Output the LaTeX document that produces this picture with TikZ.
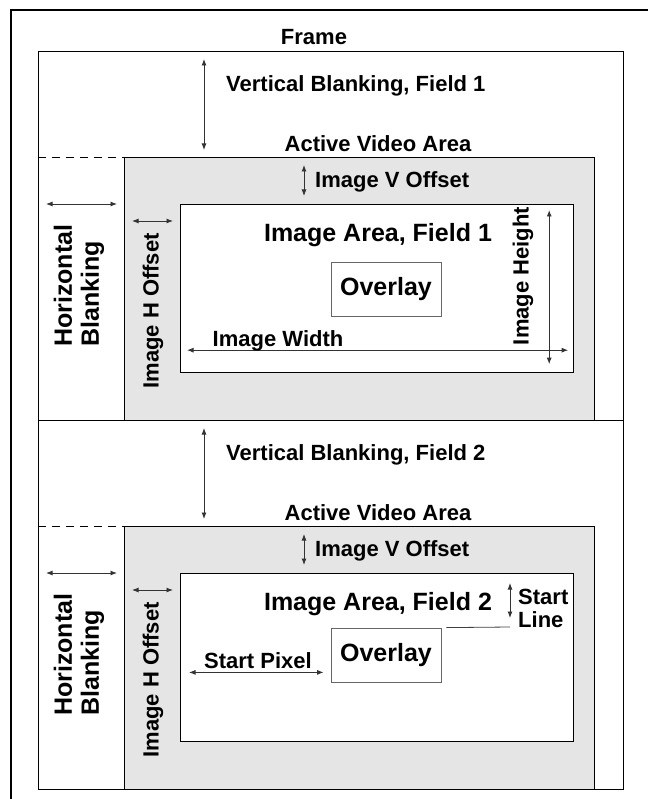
\documentclass[tikz,border=0pt]{standalone}
\usepackage{fontspec}
\setmainfont{Liberation Sans}
\usetikzlibrary{arrows.meta,positioning,calc}

\begin{document}
\begin{tikzpicture}[x=1pt,y=-1pt,>={Latex[length=6.5pt,width=5pt]},
  box/.style={draw=black,line width=1.2pt,inner sep=0pt,anchor=north west},
  actv/.style={box,fill=black!10},
  ovl/.style={draw=black!60,line width=0.8pt,fill=white,inner sep=0pt,
    minimum width=110pt,minimum height=54pt,font=\fontsize{25}{27}\selectfont\bfseries},
  dim/.style={<->,draw=black!80,line width=0.9pt},
  lab/.style={font=\fontsize{22}{23}\selectfont\bfseries,inner sep=0pt},
  big/.style={font=\fontsize{25}{27}\selectfont\bfseries,inner sep=0pt}]
  \useasboundingbox (0,0) rectangle (648,799);
  \draw[line width=1.2pt] (11,799) |- (648,10);
  \node[lab] (frm) at (314,37) {Frame};
  \foreach \f/\dy/\oy in {1/0/289,2/369/655}{
    \node[box,minimum width=585pt,minimum height=369pt] (field\f) at (38,51+\dy) {};
    \node[actv,minimum width=470pt,minimum height=263pt] (act\f) at (124,157+\dy) {};
    \node[box,fill=white,minimum width=393pt,minimum height=168pt] (img\f) at (180,204+\dy) {};
    \draw[dashed,dash pattern=on 8pt off 6pt,line width=0.8pt] (field\f.west |- act\f.north) -- (act\f.north west);
    \draw[dim] ($(field\f.north west)+(166,8)$) -- ($(act\f.north west)+(80,-7)$);
    \draw[dim] ($(field\f.north west)+(8,153)$) -- ($(act\f.north west)+(-7,47)$);
    \draw[dim] ($(act\f.north west)+(8,64)$) -- ($(img\f.north west)+(-7,17)$);
    \draw[dim] ($(act\f.north west)+(180,8)$) -- ($(img\f.north west)+(124,-8)$);
    \node[lab,anchor=west] (vb\f) at (226,86+\dy) {Vertical Blanking, Field \f};
    \node[lab] (ava\f) at (378,144+\dy) {Active Video Area};
    \node[big,rotate=90,align=left,anchor=west] (hb\f) at (79,347+\dy) {Horizontal\\Blanking};
    \node[lab,rotate=90] (iho\f) at (153,311+\dy) {Image H Offset};
    \node[lab,anchor=west] (ivo\f) at (315,182+\dy) {Image V Offset};
    \node[big] (iaf\f) at (378,235+\dy) {Image Area, Field \f};
    \node[ovl] (ovl\f) at (386,\oy) {Overlay};
  }
  \draw[dim] ($(img1.south west)+(7,-23)$) -- ($(img1.south east)+(-6,-23)$);
  \node[lab,anchor=base] (iw) at (278,346) {Image Width};
  \draw[dim] ($(img1.north east)+(-25,6)$) -- ($(img1.south east)+(-25,-9)$);
  \node[lab,rotate=90] (ih) at (523,276) {Image Height};
  \coordinate (sl) at (510,627);
  \draw[draw=black!75,line width=0.8pt] ($(ovl2.north east)+(5,0)$) -- (sl);
  \draw[dim] ($(sl)+(0,-44)$) -- ($(sl)+(0,-9)$);
  \node[lab,align=left,anchor=west] (stl) at (518,608) {Start\\Line};
  \draw[dim] ($(img2.west |- ovl2.south)+(9,-10)$) -- ($(ovl2.south west)+(-7,-10)$);
  \node[lab,anchor=base] (sp) at (258,668) {Start Pixel};
\end{tikzpicture}
\end{document}
